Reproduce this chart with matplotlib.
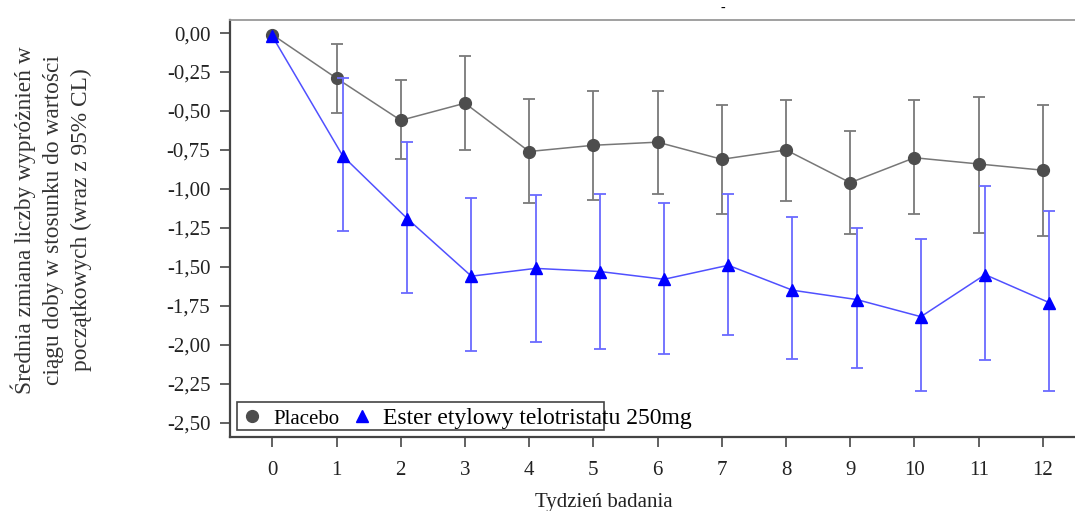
import numpy as np
import matplotlib
matplotlib.use('Agg')
import matplotlib.pyplot as plt
from matplotlib.patches import Rectangle

plt.rcParams['font.family'] = ['Liberation Serif', 'DejaVu Serif']

# Data
weeks = np.arange(0, 13)
placebo_mean = [-0.01, -0.29, -0.56, -0.45, -0.76, -0.72, -0.70, -0.81, -0.75, -0.96, -0.80, -0.84, -0.88]
placebo_hi = [np.nan, -0.07, -0.30, -0.15, -0.42, -0.37, -0.37, -0.46, -0.43, -0.63, -0.43, -0.41, -0.46]
placebo_lo = [np.nan, -0.51, -0.81, -0.75, -1.09, -1.07, -1.03, -1.16, -1.08, -1.29, -1.16, -1.28, -1.30]

telo_mean = [-0.02, -0.79, -1.19, -1.56, -1.51, -1.53, -1.58, -1.49, -1.65, -1.71, -1.82, -1.55, -1.73]
telo_hi = [np.nan, -0.29, -0.70, -1.06, -1.04, -1.03, -1.09, -1.03, -1.18, -1.25, -1.32, -0.98, -1.14]
telo_lo = [np.nan, -1.27, -1.67, -2.04, -1.98, -2.03, -2.06, -1.94, -2.09, -2.15, -2.30, -2.10, -2.30]

yticks = [0.0, -0.25, -0.5, -0.75, -1.0, -1.25, -1.5, -1.75, -2.0, -2.25, -2.5]
ytick_labels = ['0,00', '-0,25', '-0,50', '-0,75', '-1,00', '-1,25', '-1,50', '-1,75', '-2,00', '-2,25', '-2,50']

pm = np.array(placebo_mean)
tm = np.array(telo_mean)
p_err = [pm - np.array(placebo_lo), np.array(placebo_hi) - pm]
t_err = [tm - np.array(telo_lo), np.array(telo_hi) - tm]
# treatment points are slightly dodged to the right after baseline
tx = weeks + np.where(weeks > 0, 0.1, 0.0)

fig = plt.figure(figsize=(10.75, 5.11), dpi=100)
ax = fig.add_axes([0.214, 0.1442, 0.786, 0.817])

ax.errorbar(weeks, pm, yerr=p_err, fmt='none', ecolor='#7a7a7a', elinewidth=1.3, capsize=4.5, capthick=1.3)
ax.plot(weeks, pm, color='#777777', lw=1.1, marker='o', ms=8.5, mfc='#4d4d4d', mec='#4d4d4d', label='Placebo')
ax.errorbar(tx, tm, yerr=t_err, fmt='none', ecolor='#6a6aff', elinewidth=1.3, capsize=4.5, capthick=1.3)
ax.plot(tx, tm, color='#5050ff', lw=1.1, marker='^', ms=9, mfc='#0000ff', mec='#0000ff',
        label='Ester etylowy telotristatu 250mg')

ax.set_xlim(-0.658, 12.5)
ax.set_ylim(-2.594, 0.085)
ax.set_xticks(weeks)
ax.set_xticklabels([str(w) for w in weeks], fontsize=15, color='#222222')
ax.set_yticks(yticks)
ax.set_yticklabels(ytick_labels, fontsize=15, color='#222222')
ax.tick_params(axis='both', direction='out', length=7.2, width=1.3, color='#555555')
ax.tick_params(axis='y', pad=7)
ax.tick_params(axis='x', pad=10)

ax.spines['right'].set_visible(False)
ax.spines['top'].set_color('#999999')
ax.spines['top'].set_linewidth(1.3)
ax.spines['left'].set_color('#444444')
ax.spines['left'].set_linewidth(1.6)
ax.spines['bottom'].set_color('#444444')
ax.spines['bottom'].set_linewidth(1.6)

fig.text(51 / 1075, 1 - 220 / 511, 'Średnia zmiana liczby wypróżnień w\nciągu doby w stosunku do wartości\npoczątkowych (wraz z 95% CL)',
         rotation=90, ha='center', va='center', fontsize=16.8,
         color='#333333', linespacing=1.42, multialignment='center')
fig.text(604 / 1075, 1 - 502 / 511, 'Tydzień badania', ha='center', va='center', fontsize=15, color='#222222')
fig.text(723 / 1075, 1 - 8 / 511, '-', ha='center', va='center', fontsize=10, color='black')

# legend box is narrower than its text, as in the reference
ax.add_patch(Rectangle((0.0083, 0.0175), 0.4343, 0.0671, transform=ax.transAxes,
                       fill=True, facecolor='white', edgecolor='#444444', lw=1.2, zorder=5))
leg = ax.legend(loc='center left', bbox_to_anchor=(-0.007, 0.046), ncol=2, frameon=False,
                fontsize=17, handlelength=0.8, handletextpad=0.5, columnspacing=0.54,
                borderpad=0.3)
leg.set_zorder(6)
leg.get_texts()[0].set_fontsize(15)
for h in leg.legend_handles:
    h.set_linestyle('none')

fig.savefig('out.png', dpi=100)
